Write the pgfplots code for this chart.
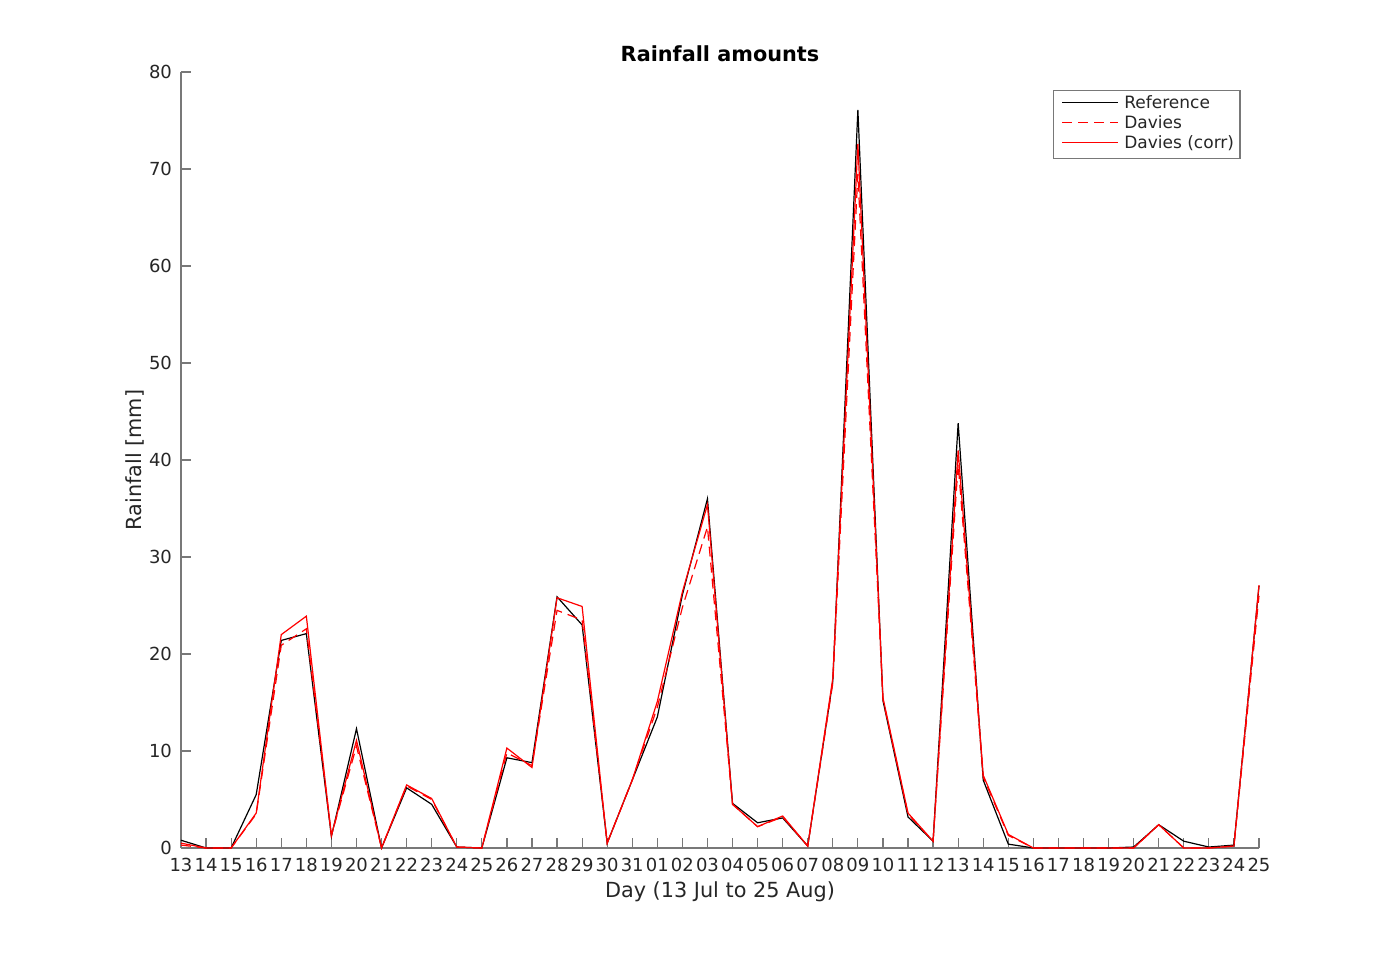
\documentclass[border=0pt]{standalone}
\usepackage{fontspec}
\setmainfont{DejaVu Sans}
\usepackage{pgfplots}
\usepackage{pgfplotstable}
\pgfplotsset{compat=1.18}
\definecolor{axgray}{RGB}{120,120,120}
\definecolor{txtgray}{RGB}{38,38,38}
\pgfplotstableread{
i ref dav corr
0 0.8 0.3 0.5
1 0 0 0
2 0 0 0
3 5.5 3.5 3.6
4 21.4 20.9 22.0
5 22.1 22.6 23.9
6 1.2 1.3 1.3
7 12.3 10.5 11.1
8 0 0 0
9 6.2 6.4 6.5
10 4.5 5.0 5.1
11 0.1 0.1 0.1
12 0 0 0
13 9.3 9.8 10.3
14 8.8 8.5 8.3
15 25.9 24.5 25.8
16 23.0 23.5 24.9
17 0.5 0.5 0.5
18 7.0 7.0 7.0
19 13.5 14.5 15.1
20 26.1 24.8 26.4
21 36.0 33.1 35.4
22 4.6 4.5 4.5
23 2.6 2.2 2.2
24 3.1 3.2 3.3
25 0.2 0.2 0.2
26 17.2 17.0 17.5
27 76.1 69.5 72.6
28 15.2 15.3 15.5
29 3.2 3.5 3.6
30 0.7 0.7 0.7
31 43.8 39.6 41.0
32 7.0 7.3 7.5
33 0.4 1.3 1.4
34 0 0 0
35 0 0 0
36 0 0 0
37 0 0 0
38 0.1 0 0
39 2.4 2.4 2.4
40 0.7 0 0
41 0.1 0 0
42 0.3 0.2 0.2
43 27.0 26.0 27.1
}\rain
\newcommand{\solidkey}[1]{\textcolor{#1}{\rule[0.3em]{28pt}{0.9pt}}}
\newcommand{\dashkey}[1]{\textcolor{#1}{\rule[0.3em]{5pt}{0.9pt}\hspace{3pt}\rule[0.3em]{5pt}{0.9pt}\hspace{3pt}\rule[0.3em]{5pt}{0.9pt}\hspace{3pt}\rule[0.3em]{4pt}{0.9pt}}}
\begin{document}
\begin{tikzpicture}
\path[use as bounding box] (-90.5pt,-52.5pt) rectangle (604pt,424pt);
\begin{axis}[
  scale only axis,
  width=539pt, height=388pt,
  xmin=0, xmax=43, ymin=0, ymax=80,
  axis x line*=bottom, axis y line*=left,
  axis line style={axgray, line width=0.6pt},
  tick align=inside,
  major tick length=5pt,
  tick style={axgray, line width=0.6pt},
  xtick={0,...,43},
  xticklabels={13,14,15,16,17,18,19,20,21,22,23,24,25,26,27,28,29,30,31,01,02,03,04,05,06,07,08,09,10,11,12,13,14,15,16,17,18,19,20,21,22,23,24,25},
  ytick={0,10,...,80},
  /pgf/number format/assume math mode=true,
  ticklabel style={font=\fontsize{9}{10}\selectfont, text=txtgray},
  xticklabel style={inner sep=1pt, yshift=-4pt},
  yticklabel style={xshift=-1pt},
  xlabel={Day (13 Jul to 25 Aug)},
  ylabel={Rainfall [mm]},
  label style={font=\fontsize{10.4}{12}\selectfont, text=txtgray},
  xlabel style={yshift=-0.5pt},
  ylabel style={yshift=-4.5pt},
  title={Rainfall amounts},
  title style={font=\fontsize{10.4}{12}\selectfont\bfseries, yshift=-4.5pt},
  clip=false,
]
\addplot[draw=black, line width=0.6pt] table[x=i, y=ref] {\rain};
\addplot[draw=red, line width=0.6pt, dash pattern=on 5pt off 3pt] table[x=i, y=dav] {\rain};
\addplot[draw=red, line width=0.6pt, solid] table[x=i, y=corr] {\rain};
\node[draw=axgray, line width=0.6pt, fill=white, anchor=north east, inner xsep=0pt, inner ysep=2pt,
  font=\fontsize{8.5}{10}\selectfont, text=txtgray]
  at (rel axis cs:0.983,0.977)
  {\begin{tabular}{@{\hspace{4.5pt}}l@{\hspace{3pt}}l@{\hspace{3pt}}}
   \solidkey{black} & Reference\\
   \dashkey{red} & Davies\\
   \solidkey{red} & Davies (corr)
   \end{tabular}};
\end{axis}
\end{tikzpicture}
\end{document}
